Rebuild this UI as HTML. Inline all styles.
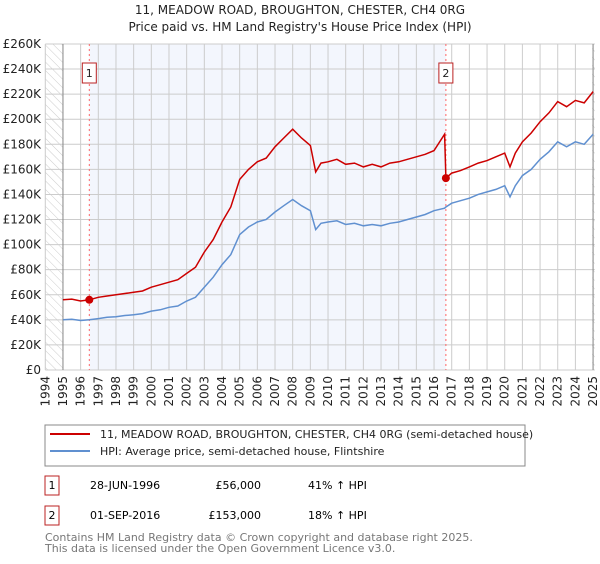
<!DOCTYPE html>
<html><head><meta charset="utf-8"><style>
body{margin:0;background:#fff;font-family:"DejaVu Sans","Liberation Sans",sans-serif;}
svg text{font-family:"DejaVu Sans","Liberation Sans",sans-serif;}
</style></head><body>
<svg id="c" width="600" height="560" xmlns="http://www.w3.org/2000/svg">
<defs><pattern id="hatch" width="6" height="6" patternUnits="userSpaceOnUse" patternTransform="rotate(-45)"><line x1="0" y1="0" x2="0" y2="6" stroke="#ccc" stroke-width="1"/></pattern></defs>
<text x="300" y="14" text-anchor="middle" font-size="12" fill="#222">11, MEADOW ROAD, BROUGHTON, CHESTER, CH4 0RG</text>
<text x="300" y="31" text-anchor="middle" font-size="12" fill="#222">Price paid vs. HM Land Registry's House Price Index (HPI)</text>
<g id="plot"></g>
<rect x="45" y="425" width="480" height="41" fill="#fff" stroke="#888"/>
<line x1="50" y1="434" x2="90" y2="434" stroke="#cc0000" stroke-width="2"/>
<text x="100" y="438" font-size="11" fill="#222">11, MEADOW ROAD, BROUGHTON, CHESTER, CH4 0RG (semi-detached house)</text>
<line x1="50" y1="451" x2="90" y2="451" stroke="#6090d0" stroke-width="2"/>
<text x="100" y="455" font-size="11" fill="#222">HPI: Average price, semi-detached house, Flintshire</text>
<g>
<rect x="45" y="476" width="14" height="19" fill="#fff" stroke="#b22"/><text x="52" y="489" text-anchor="middle" font-size="11">1</text>
<text x="90" y="489" font-size="11">28-JUN-1996</text><text x="261" y="489" text-anchor="end" font-size="11">£56,000</text><text x="308" y="489" font-size="11">41% ↑ HPI</text></g>
<g>
<rect x="45" y="506" width="14" height="19" fill="#fff" stroke="#b22"/><text x="52" y="519" text-anchor="middle" font-size="11">2</text>
<text x="90" y="519" font-size="11">01-SEP-2016</text><text x="261" y="519" text-anchor="end" font-size="11">£153,000</text><text x="308" y="519" font-size="11">18% ↑ HPI</text></g>
<text x="45" y="541" font-size="11" fill="#777">Contains HM Land Registry data © Crown copyright and database right 2025.</text>
<text x="45" y="552" font-size="11" fill="#777">This data is licensed under the Open Government Licence v3.0.</text>
</svg>
<script>
const dates=[1995,1995.5,1996,1996.49,1997,1997.5,1998,1998.5,1999,1999.5,2000,2000.5,2001,2001.5,2002,2002.5,2003,2003.5,2004,2004.5,2005,2005.5,2006,2006.5,2007,2007.5,2008,2008.5,2009,2009.3,2009.6,2010,2010.5,2011,2011.5,2012,2012.5,2013,2013.5,2014,2014.5,2015,2015.5,2016,2016.6,2016.67,2017,2017.5,2018,2018.5,2019,2019.5,2020,2020.3,2020.6,2021,2021.5,2022,2022.5,2023,2023.5,2024,2024.5,2025];
const hpi=[40,40.5,39.5,40,41,42,42.5,43.5,44,45,47,48,50,51,55,58,66,74,84,92,108,114,118,120,126,131,136,131,127,112,117,118,119,116,117,115,116,115,117,118,120,122,124,127,129,130,133,135,137,140,142,144,147,138,147,155,160,168,174,182,178,182,180,188];
const price=[56,56.5,55,56,58,59,60,61,62,63,66,68,70,72,77,82,94,104,118,130,152,160,166,169,178,185,192,185,179,158,165,166,168,164,165,162,164,162,165,166,168,170,172,175,188,153,157,159,162,165,167,170,173,162,173,182,189,198,205,214,210,215,213,222];
const yTicks=[0,20,40,60,80,100,120,140,160,180,200,220,240,260];
const xTicks=[1994,1995,1996,1997,1998,1999,2000,2001,2002,2003,2004,2005,2006,2007,2008,2009,2010,2011,2012,2013,2014,2015,2016,2017,2018,2019,2020,2021,2022,2023,2024,2025];
const sales=[{n:'1',d:1996.49,p:56},{n:'2',d:2016.67,p:153}];
const X=v=>45.3+(v-1994)*17.67, Y=v=>370-v*1.254;
const NS='http://www.w3.org/2000/svg', g=document.getElementById('plot');
function mk(t,a,p){const e=document.createElementNS(NS,t);for(const k in a)e.setAttribute(k,a[k]);(p||g).appendChild(e);return e;}
let e;
e=mk('rect',{x:X(1994),y:Y(260),width:X(1995)-X(1994),height:Y(0)-Y(260),fill:'url(#hatch)'});


e=mk('rect',{x:X(2025)-1,y:Y(260),width:X(2025.1)-X(2025)+1,height:Y(0)-Y(260),fill:'url(#hatch)'});


e=mk('rect',{x:X(sales[0].d),y:Y(260),width:X(sales[1].d)-X(sales[0].d),height:Y(0)-Y(260),fill:'#f3f6fd'});


yTicks.forEach(t=>{
 e=mk('line',{x1:X(1994),x2:X(2025.1),y1:Y(t),y2:Y(t),stroke:'#ccc'});
 
 
 e=mk('text',{x:41,y:Y(t)+4,'text-anchor':'end','font-size':12,fill:'#222'});
 e.textContent=t===0?'£0':'£'+t+'K';
 
 
});
xTicks.forEach(t=>{
 e=mk('line',{x1:X(t),x2:X(t),y1:Y(260),y2:Y(0),stroke:'#ccc'});
 
 
 e=mk('text',{x:0,y:0,'text-anchor':'end','font-size':12,fill:'#222',transform:`translate(${X(t)+4},${Y(0)+6}) rotate(-90)`});
 e.textContent=t;
 
 
});
e=mk('line',{x1:X(1995),x2:X(1995),y1:Y(260),y2:Y(0),stroke:'#888'});


e=mk('line',{x1:X(2025),x2:X(2025),y1:Y(260),y2:Y(0),stroke:'#888'});


sales.forEach(s=>{
 e=mk('line',{x1:X(s.d),x2:X(s.d),y1:Y(260),y2:Y(0),stroke:'#f66','stroke-dasharray':'2,3'});
 
 
 e=mk('rect',{x:X(s.d)-7,y:63,width:14,height:20,fill:'#fff',stroke:'#b22'});
 
 
 e=mk('text',{x:X(s.d),y:77,'text-anchor':'middle','font-size':11,fill:'#222'});
 e.textContent=s.n;
 
 
});
const pts=a=>a.map((v,i)=>X(dates[i]).toFixed(1)+','+Y(v).toFixed(1)).join(' ');
e=mk('polyline',{points:pts(hpi),fill:'none',stroke:'#6090d0','stroke-width':1.5});


e=mk('polyline',{points:pts(price),fill:'none',stroke:'#cc0000','stroke-width':1.5});


sales.forEach(s=>{
 e=mk('circle',{cx:X(s.d),cy:Y(s.p),r:4,fill:'#cc0000'});
 
 
});
</script>
</body></html>
